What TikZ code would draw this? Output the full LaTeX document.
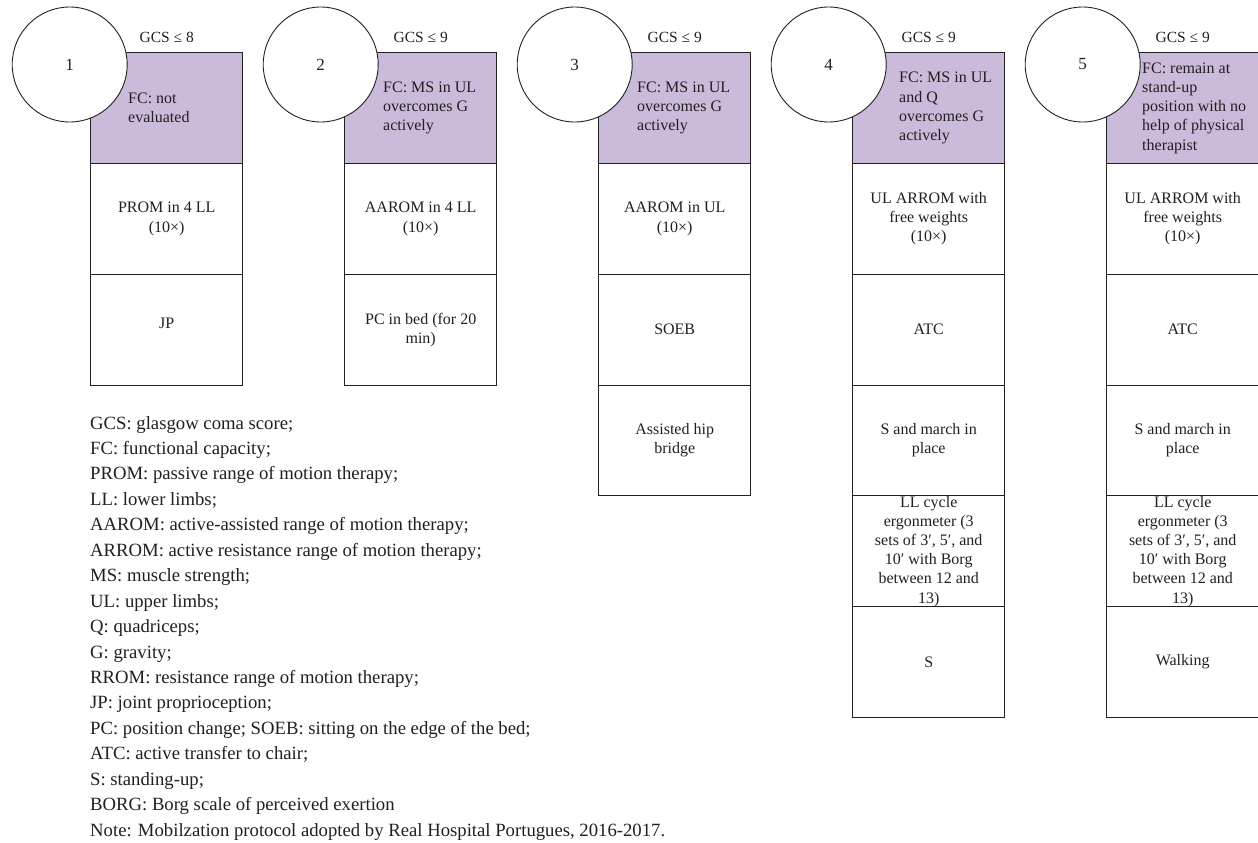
\documentclass[tikz,border=0pt]{standalone}
\usepackage{fontspec}
\setmainfont{Liberation Serif}
\definecolor{fcpurple}{HTML}{CBBBDB}
\definecolor{ink}{HTML}{231F20}
\begin{document}
\begin{tikzpicture}[x=1pt,y=-1pt,
  cellbox/.style={draw=ink, line width=0.9pt, minimum width=152pt, minimum height=110.8pt, inner sep=0pt, outer sep=0pt, anchor=north west},
  fcbox/.style={cellbox, fill=fcpurple},
  numcirc/.style={circle, draw=ink, line width=0.9pt, fill=white, minimum size=115pt, inner sep=0pt, text=ink, font=\fontsize{17}{20}\selectfont},
  celltxt/.style={align=center, inner sep=0pt, text=ink, font=\fontsize{16}{19.2}\selectfont},
  fctxt/.style={align=left, anchor=west, inner sep=0pt, text=ink, font=\fontsize{16}{19.2}\selectfont},
  gcstxt/.style={inner sep=0pt, text=ink, font=\fontsize{15.5}{18}\selectfont},
  legtxt/.style={anchor=base west, inner sep=0pt, text=ink, font=\fontsize{18.7}{25}\selectfont}]
\useasboundingbox (0,0) rectangle (1258,843);

% ---- column 1
\node[fcbox]   (b1a) at (90.7,52.7) {};
\node[cellbox] (b1b) at (90.7,163.5) {};
\node[cellbox] (b1c) at (90.7,274.3) {};
% ---- column 2
\node[fcbox]   (b2a) at (344.7,52.7) {};
\node[cellbox] (b2b) at (344.7,163.5) {};
\node[cellbox] (b2c) at (344.7,274.3) {};
% ---- column 3
\node[fcbox]   (b3a) at (598.7,52.7) {};
\node[cellbox] (b3b) at (598.7,163.5) {};
\node[cellbox] (b3c) at (598.7,274.3) {};
\node[cellbox] (b3d) at (598.7,385.1) {};
% ---- column 4
\node[fcbox]   (b4a) at (852.7,52.7) {};
\node[cellbox] (b4b) at (852.7,163.5) {};
\node[cellbox] (b4c) at (852.7,274.3) {};
\node[cellbox] (b4d) at (852.7,385.1) {};
\node[cellbox] (b4e) at (852.7,495.9) {};
\node[cellbox] (b4f) at (852.7,606.7) {};
% ---- column 5
\node[fcbox]   (b5a) at (1106.7,52.7) {};
\node[cellbox] (b5b) at (1106.7,163.5) {};
\node[cellbox] (b5c) at (1106.7,274.3) {};
\node[cellbox] (b5d) at (1106.7,385.1) {};
\node[cellbox] (b5e) at (1106.7,495.9) {};
\node[cellbox] (b5f) at (1106.7,606.7) {};

% ---- circles
\node[numcirc] (n1) at (69.7,64.5) {1};
\node[numcirc] (n2) at (320.7,64.5) {2};
\node[numcirc] (n3) at (574.7,64.5) {3};
\node[numcirc] (n4) at (828.7,64.5) {4};
\node[numcirc] (n5) at (1082.7,64.5) {5};

% ---- GCS labels
\node[gcstxt] (g1) at (166.7,37) {GCS ≤ 8};
\node[gcstxt] (g2) at (420.7,37) {GCS ≤ 9};
\node[gcstxt] (g3) at (674.7,37) {GCS ≤ 9};
\node[gcstxt] (g4) at (928.7,37) {GCS ≤ 9};
\node[gcstxt] (g5) at (1182.7,37) {GCS ≤ 9};

% ---- functional capacity texts
\node[fctxt] (f1) at (128,108.1) {FC: not\\evaluated};
\node[fctxt] (f2) at (383,108.1) {FC: MS in UL\\overcomes G\\actively};
\node[fctxt] (f3) at (637,108.1) {FC: MS in UL\\overcomes G\\actively};
\node[fctxt] (f4) at (899,108.1) {FC: MS in UL\\and Q\\overcomes G\\actively};
\node[fctxt] (f5) at (1142,108.1) {FC: remain at\\stand-up\\position with no\\help of physical\\therapist};

% ---- cell texts column 1
\node[celltxt] (t1b) at (b1b.center) {PROM in 4 LL\\(10×)};
\node[celltxt] (t1c) at (166.7,323) {JP};
% ---- column 2
\node[celltxt] (t2b) at (b2b.center) {AAROM in 4 LL\\(10×)};
\node[celltxt] (t2c) at (b2c.center) {PC in bed (for 20\\min)};
% ---- column 3
\node[celltxt] (t3b) at (b3b.center) {AAROM in UL\\(10×)};
\node[celltxt] (t3c) at (b3c.center) {SOEB};
\node[celltxt] (t3d) at (b3d.center) {Assisted hip\\bridge};
% ---- column 4
\node[celltxt] (t4b) at (b4b.center) {UL ARROM with\\free weights\\(10×)};
\node[celltxt] (t4c) at (b4c.center) {ATC};
\node[celltxt] (t4d) at (b4d.center) {S and march in\\place};
\node[celltxt] (t4e) at (b4e.center) {LL cycle\\ergonmeter (3\\sets of 3′, 5′, and\\10′ with Borg\\between 12 and\\13)};
\node[celltxt] (t4f) at (b4f.center) {S};
% ---- column 5
\node[celltxt] (t5b) at (b5b.center) {UL ARROM with\\free weights\\(10×)};
\node[celltxt] (t5c) at (b5c.center) {ATC};
\node[celltxt] (t5d) at (b5d.center) {S and march in\\place};
\node[celltxt] (t5e) at (b5e.center) {LL cycle\\ergonmeter (3\\sets of 3′, 5′, and\\10′ with Borg\\between 12 and\\13)};
\node[celltxt] (t5f) at (b5f.center) {Walking};

% ---- legend
\foreach \t [count=\i from 0] in {
  {GCS: glasgow coma score;},
  {FC: functional capacity;},
  {PROM: passive range of motion therapy;},
  {LL: lower limbs;},
  {AAROM: active-assisted range of motion therapy;},
  {ARROM: active resistance range of motion therapy;},
  {MS: muscle strength;},
  {UL: upper limbs;},
  {Q: quadriceps;},
  {G: gravity;},
  {RROM: resistance range of motion therapy;},
  {JP: joint proprioception;},
  {PC: position change; SOEB: sitting on the edge of the bed;},
  {ATC: active transfer to chair;},
  {S: standing-up;},
  {BORG: Borg scale of perceived exertion},
  {Note: Mobilzation protocol adopted by Real Hospital Portugues, 2016-2017.}}
  \node[legtxt] (leg\i) at (90,429+25.45*\i) {\t};
\end{tikzpicture}
\end{document}
